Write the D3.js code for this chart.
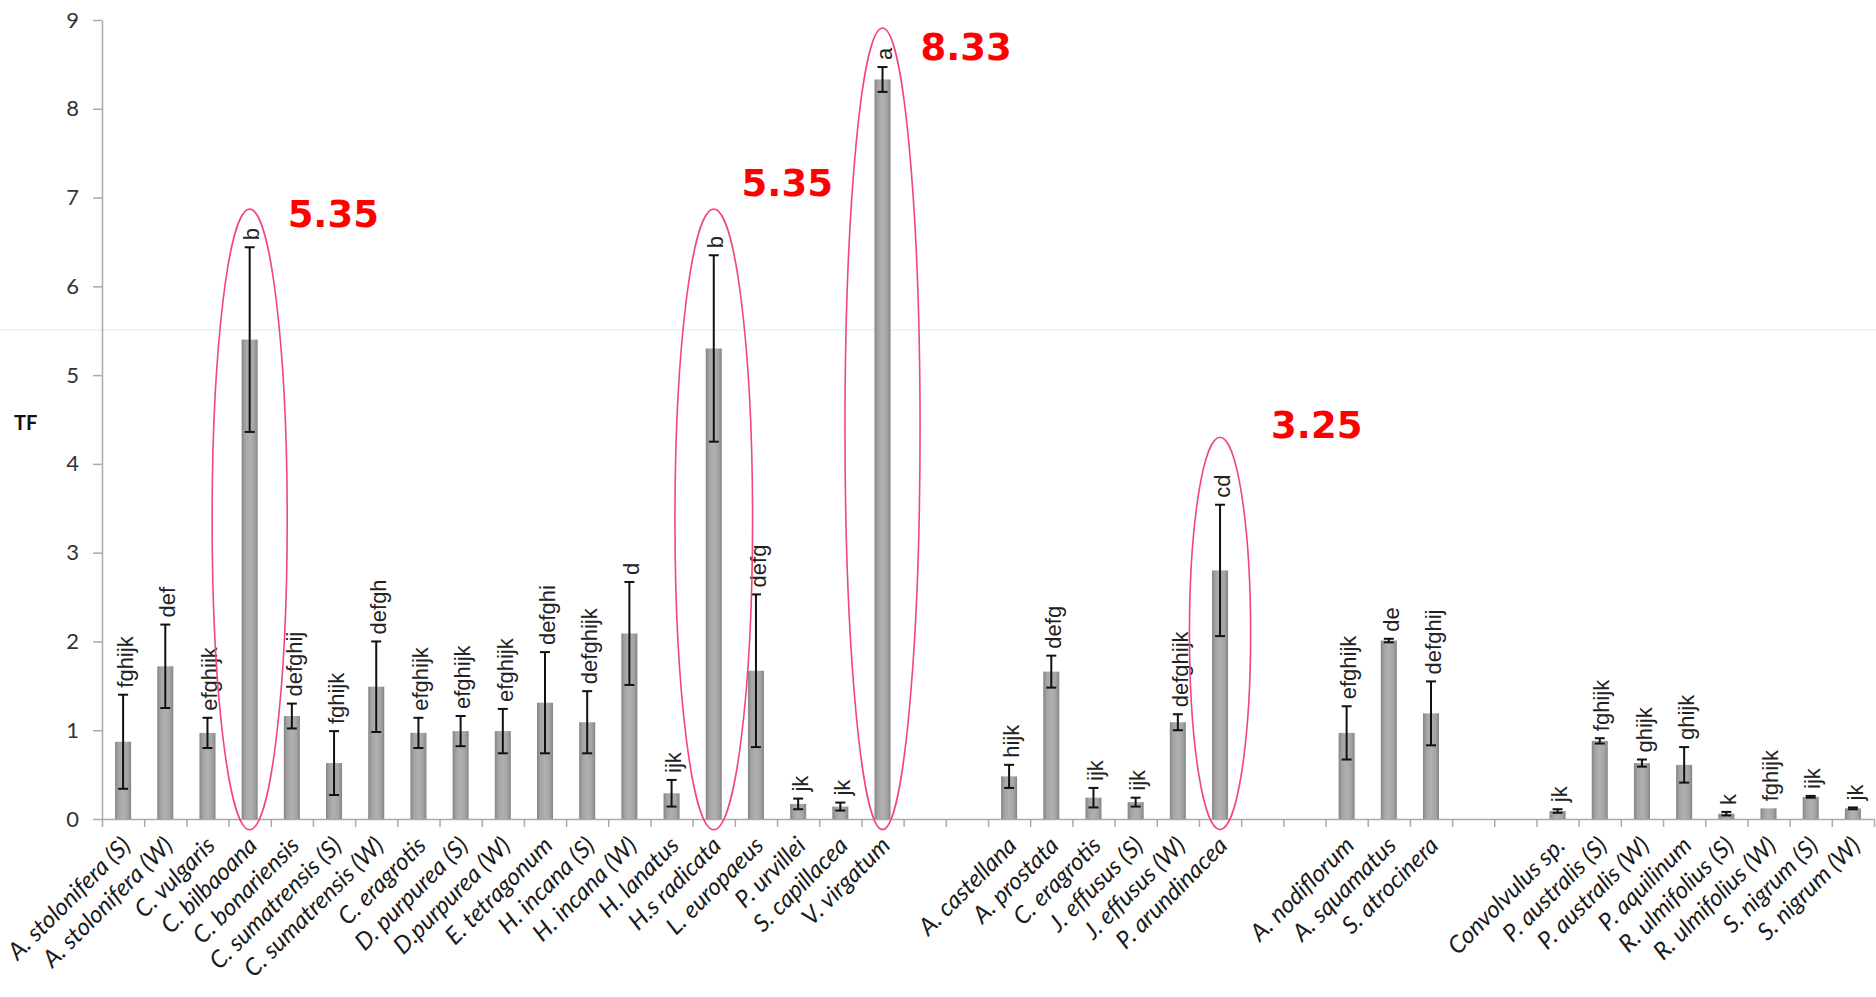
<!DOCTYPE html>
<html>
<head>
<meta charset="utf-8">
<script src="https://cdn.jsdelivr.net/npm/d3@7"></script>
<style>
  body { margin: 0; background: #fff; }
</style>
</head>
<body>
<div id="chart"></div>
<script>
// Species (empty strings are the blank slots between groups)
const categories = [
  "A. stolonifera (S)", "A. stolonifera (W)", "C. vulgaris", "C. bilbaoana", "C. bonariensis",
  "C. sumatrensis (S)", "C. sumatrensis (W)", "C. eragrotis", "D. purpurea (S)", "D.purpurea (W)",
  "E. tetragonum", "H. incana (S)", "H. incana (W)", "H. lanatus", "H.s radicata",
  "L. europaeus", "P. urvillei", "S. capillacea", "V. virgatum", "", "",
  "A. castellana", "A. prostata", "C. eragrotis", "J. effusus (S)", "J. effusus (W)", "P. arundinacea", "", "",
  "A. nodiflorum", "A. squamatus", "S. atrocinera", "", "",
  "Convolvulus sp.", "P. australis (S)", "P. australis (W)", "P. aquilinum",
  "R. ulmifolius (S)", "R. ulmifolius (W)", "S. nigrum (S)", "S. nigrum (W)"
];

// mean TF per species
const means = [
  0.87, 1.72, 0.97, 5.40, 1.16, 0.63, 1.49, 0.97, 0.99, 0.99,
  1.31, 1.09, 2.09, 0.29, 5.30, 1.67, 0.17, 0.14, 8.33, null, null,
  0.48, 1.66, 0.24, 0.19, 1.09, 2.80, null, null,
  0.97, 2.01, 1.19, null, null,
  0.09, 0.88, 0.63, 0.61, 0.06, 0.12, 0.25, 0.12
];

// standard deviation (error bars)
const sds = [
  0.53, 0.47, 0.17, 1.04, 0.14, 0.36, 0.51, 0.17, 0.17, 0.25,
  0.57, 0.35, 0.58, 0.15, 1.05, 0.86, 0.06, 0.045, 0.14, null, null,
  0.13, 0.18, 0.11, 0.05, 0.09, 0.74, null, null,
  0.30, 0.02, 0.36, null, null,
  0.02, 0.03, 0.04, 0.20, 0.02, 0, 0.01, 0.01
];

// significance letters
const letters = [
  "fghijk", "def", "efghijk", "b", "defghij", "fghijk", "defgh", "efghijk", "efghijk", "efghijk",
  "defghi", "defghijk", "d", "ijk", "b", "defg", "jk", "jk", "a", "", "",
  "hijk", "defg", "ijk", "ijk", "defghijk", "cd", "", "",
  "efghijk", "de", "defghij", "", "",
  "jk", "fghijk", "ghijk", "ghijk", "k", "fghijk", "ijk", "jk"
];

const yTicks = d3.range(0, 10);

// circled bars and red callouts
const circled = [3, 14, 18, 26];
const circleTop = [6.87, 6.87, 8.91, 4.30];
const circleSpan = [1.78, 1.84, 1.78, 1.45];
const calloutText = ["5.35", "5.35", "8.33", "3.25"];
const calloutSlot = [3.9, 14.66, 18.9, 27.21];
const calloutValue = [6.67, 7.02, 8.55, 4.29];

const width = 1876, height = 997;
const plotLeft = 102, plotRight = 1874, plotTop = 20, plotBottom = 819;

const svg = d3.select("#chart").append("svg")
  .attr("width", width)
  .attr("height", height)
  .style("font-family", "Lato, 'Liberation Sans', sans-serif");

const x = d3.scaleBand()
  .domain(d3.range(categories.length))
  .range([plotLeft, plotRight])
  .paddingInner(0.62)
  .paddingOuter(0.31);

const y = d3.scaleLinear().domain([0, 9]).range([plotBottom, plotTop]);

const slot = d3.scaleLinear().domain([0, categories.length]).range([plotLeft, plotRight]);

// bar shading
const grad = svg.append("defs").append("linearGradient")
  .attr("id", "barGrad").attr("x1", "0%").attr("x2", "100%");
[["0%", "#848484"], ["22%", "#a4a4a4"], ["50%", "#b0b0b0"], ["78%", "#a4a4a4"], ["100%", "#848484"]]
  .forEach(s => grad.append("stop").attr("offset", s[0]).attr("stop-color", s[1]));

// stray guide line
svg.append("line")
  .attr("x1", 0).attr("x2", width)
  .attr("y1", 330).attr("y2", 330)
  .attr("stroke", "#cdeef6").attr("stroke-width", 1);

// y axis
const yAxis = svg.append("g")
  .attr("transform", `translate(${plotLeft},0)`)
  .call(d3.axisLeft(y).tickValues(yTicks).tickSize(9).tickPadding(14).tickSizeOuter(0));
yAxis.select(".domain").attr("stroke", "#aaa").attr("stroke-width", 1.5);
yAxis.selectAll(".tick line").attr("stroke", "#aaa").attr("stroke-width", 1.5);
yAxis.selectAll(".tick text").attr("font-size", 22).attr("fill", "#333")
  .attr("font-family", "Lato, sans-serif");

svg.append("text")
  .attr("x", 14).attr("y", 430)
  .attr("font-size", 20).attr("font-weight", "bold").attr("fill", "#111")
  .text("TF");

// x axis with ticks between categories
const xAxis = svg.append("g")
  .attr("transform", `translate(0,${plotBottom})`)
  .call(d3.axisBottom(slot).tickValues(d3.range(0, categories.length + 1)).tickSize(8).tickSizeOuter(0).tickFormat(""));
xAxis.select(".domain").attr("stroke", "#aaa").attr("stroke-width", 1.5);
xAxis.selectAll(".tick line").attr("stroke", "#aaa").attr("stroke-width", 1.5);

const rows = categories.map((c, i) => ({ i, name: c, mean: means[i], sd: sds[i], letter: letters[i] }));
const bars = rows.filter(d => d.mean != null);
const cx = d => x(d.i) + x.bandwidth() / 2;

// bars
svg.selectAll("rect.bar")
  .data(bars)
  .enter()
  .append("rect")
  .attr("class", "bar")
  .attr("x", d => x(d.i))
  .attr("width", x.bandwidth())
  .attr("y", d => y(d.mean))
  .attr("height", d => y(0) - y(d.mean))
  .attr("fill", "url(#barGrad)");

// error bars
const err = svg.selectAll("g.err")
  .data(bars.filter(d => d.sd > 0))
  .enter()
  .append("g")
  .attr("class", "err")
  .attr("stroke", "#111")
  .attr("stroke-width", 2);

err.append("line")
  .attr("x1", cx).attr("x2", cx)
  .attr("y1", d => y(d.mean + d.sd))
  .attr("y2", d => y(Math.max(0, d.mean - d.sd)));
err.append("line")
  .attr("x1", d => cx(d) - 5).attr("x2", d => cx(d) + 5)
  .attr("y1", d => y(d.mean + d.sd)).attr("y2", d => y(d.mean + d.sd));
err.append("line")
  .attr("x1", d => cx(d) - 5).attr("x2", d => cx(d) + 5)
  .attr("y1", d => y(Math.max(0, d.mean - d.sd))).attr("y2", d => y(Math.max(0, d.mean - d.sd)));

// significance letters
svg.selectAll("text.letter")
  .data(bars)
  .enter()
  .append("text")
  .attr("class", "letter")
  .attr("transform", d => `translate(${cx(d) + 2},${y(d.mean + d.sd) - 7}) rotate(-90)`)
  .attr("dy", "0.35em")
  .attr("font-size", 22)
  .attr("font-family", "'Liberation Sans', Arial, sans-serif")
  .attr("fill", "#222")
  .text(d => d.letter);

// category labels
svg.selectAll("text.cat")
  .data(bars)
  .enter()
  .append("text")
  .attr("class", "cat")
  .attr("transform", d => `translate(${cx(d) + 9},${plotBottom + 28}) rotate(-45)`)
  .attr("text-anchor", "end")
  .attr("font-size", 24)
  .attr("font-style", "italic")
  .attr("fill", "#1a1a1a")
  .text(d => d.name);

// ellipses around highlighted bars
svg.selectAll("ellipse.hl")
  .data(circled.map((c, k) => ({ i: c, top: circleTop[k], span: circleSpan[k] })))
  .enter()
  .append("ellipse")
  .attr("class", "hl")
  .attr("cx", d => x(d.i) + x.bandwidth() / 2)
  .attr("cy", d => (y(d.top) + y(-0.12)) / 2)
  .attr("rx", d => x.step() * d.span / 2)
  .attr("ry", d => (y(-0.12) - y(d.top)) / 2)
  .attr("fill", "none")
  .attr("stroke", "#f2467c")
  .attr("stroke-width", 1.6);

// red callouts
svg.selectAll("text.callout")
  .data(calloutText.map((t, k) => ({ t, s: calloutSlot[k], v: calloutValue[k] })))
  .enter()
  .append("text")
  .attr("class", "callout")
  .attr("x", d => slot(d.s + 0.5))
  .attr("y", d => y(d.v))
  .attr("font-family", "'DejaVu Sans', Verdana, sans-serif")
  .attr("font-weight", "bold")
  .attr("font-size", 37)
  .attr("fill", "#ff0000")
  .text(d => d.t);
</script>
</body>
</html>
